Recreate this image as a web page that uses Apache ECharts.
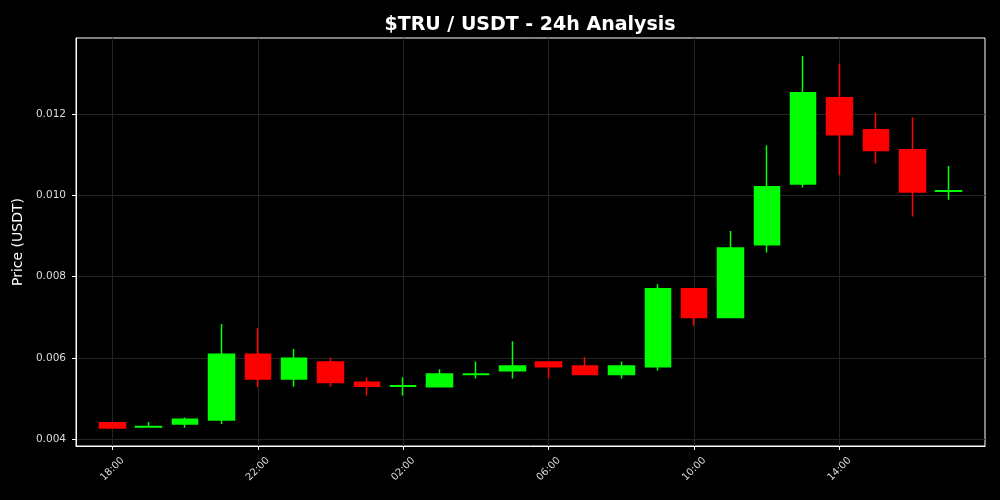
<!DOCTYPE html>
<html>
<head>
<meta charset="utf-8">
<script src="https://cdn.jsdelivr.net/npm/echarts@6/dist/echarts.min.js"></script>
<style>html,body{margin:0;padding:0;background:#000;}#c{width:1000px;height:500px;}</style>
</head>
<body>
<div id="c"></div>
<script>
const hours = ['18:00','19:00','20:00','21:00','22:00','23:00','00:00','01:00','02:00','03:00','04:00','05:00',
               '06:00','07:00','08:00','09:00','10:00','11:00','12:00','13:00','14:00','15:00','16:00','17:00'];
const openP  = [0.00440,0.00430,0.00437,0.00447,0.00609,0.00548,0.00590,0.00540,0.00530,0.00529,0.00559,0.00568,
                0.00590,0.00580,0.00559,0.00578,0.00770,0.00699,0.00878,0.01028,0.01240,0.01161,0.01112,0.01010];
const closeP = [0.00427,0.00431,0.00449,0.00609,0.00548,0.00599,0.00539,0.00530,0.00531,0.00560,0.00560,0.00580,
                0.00578,0.00559,0.00580,0.00770,0.00699,0.00870,0.01021,0.01252,0.01149,0.01110,0.01008,0.01011];
const lowP   = [0.00427,0.00430,0.00428,0.00437,0.00529,0.00529,0.00529,0.00507,0.00507,0.00529,0.00549,0.00549,
                0.00549,0.00559,0.00549,0.00568,0.00679,0.00699,0.00859,0.01019,0.01049,0.01078,0.00948,0.00989];
const highP  = [0.00441,0.00442,0.00453,0.00683,0.00673,0.00622,0.00601,0.00552,0.00552,0.00572,0.00591,0.00641,
                0.00591,0.00602,0.00591,0.00781,0.00771,0.00912,0.01123,0.01343,0.01324,0.01203,0.01192,0.01072];
const yTicks = [0.004,0.006,0.008,0.010,0.012];

const cats = [''].concat(hours, ['']);
const candles = ['-'].concat(hours.map((h,i)=>[openP[i],closeP[i],lowP[i],highP[i]]), ['-']);
const every4 = (idx) => idx % 4 === 1 && idx <= hours.length;

const chart = echarts.init(document.getElementById('c'), null, {renderer:'canvas'});
chart.setOption({
  backgroundColor:'#000',
  animation:false,
  title:{text:'$TRU / USDT - 24h Analysis', left:525, top:11, textAlign:'center',
    textStyle:{color:'#fff', fontSize:19, fontWeight:'bold', fontFamily:'DejaVu Sans'}},
  grid:{left:76, right:15, top:38, bottom:54, show:true, borderColor:'#fff', borderWidth:1, backgroundColor:'transparent'},
  xAxis:{type:'category', data:cats, boundaryGap:false,
    axisLine:{lineStyle:{color:'#fff'}},
    axisTick:{interval:every4, length:4, lineStyle:{color:'#fff'}},
    axisLabel:{interval:every4, rotate:45, align:'center', verticalAlign:'middle', color:'#ddd', fontSize:10,
      fontFamily:'DejaVu Sans', margin:23},
    splitLine:{show:true, interval:every4, lineStyle:{color:'#242424', type:'solid', width:1}}},
  yAxis:{type:'value', min:0.00383, max:0.01387, name:'Price (USDT)', nameLocation:'middle', nameGap:49,
    nameTextStyle:{color:'#fff', fontSize:14, fontFamily:'DejaVu Sans'},
    axisLine:{show:true, lineStyle:{color:'#fff'}},
    axisTick:{show:true, length:4, customValues:yTicks, lineStyle:{color:'#fff'}},
    axisLabel:{color:'#ddd', fontSize:10.5, fontFamily:'DejaVu Sans', margin:10, customValues:yTicks, formatter:(v)=>v.toFixed(3)},
    splitLine:{show:true, lineStyle:{color:'#242424', type:'solid', width:1}}},
  series:[{type:'candlestick', data:candles, barWidth:26,
    itemStyle:{color:'#00ff00', color0:'#ff0000', borderColor:'#00ff00', borderColor0:'#ff0000', borderWidth:1.5}}]
});
</script>
</body>
</html>
